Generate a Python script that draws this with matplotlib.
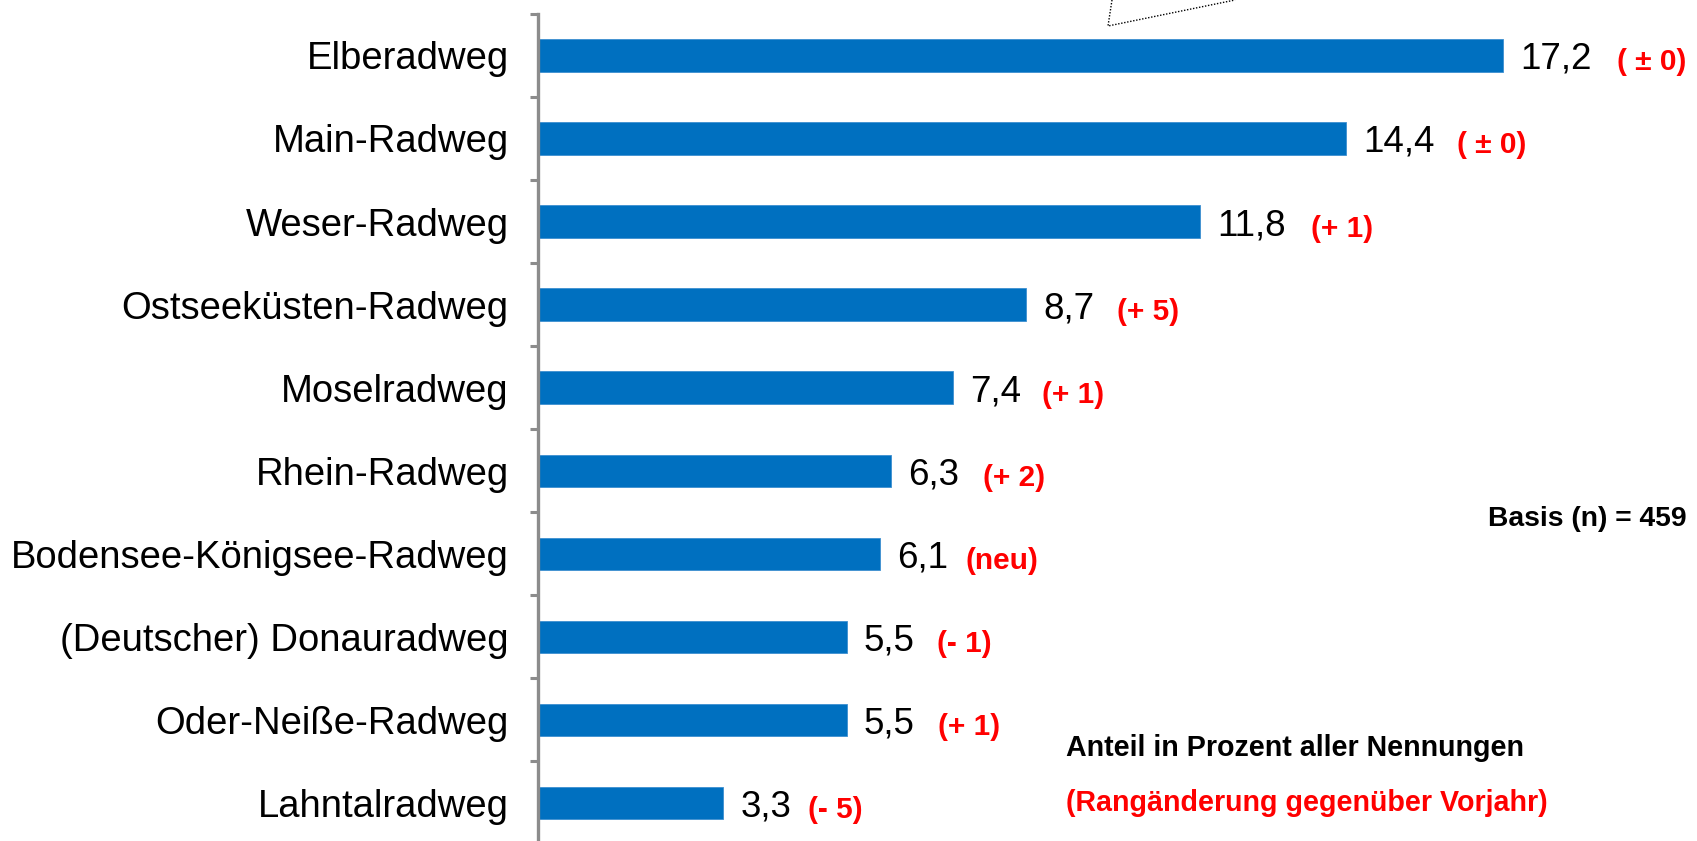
import matplotlib.pyplot as plt
import numpy as np

plt.rcParams['font.family'] = ['Liberation Sans', 'DejaVu Sans']

# data
routes = ['Elberadweg', 'Main-Radweg', 'Weser-Radweg', 'Ostseeküsten-Radweg',
          'Moselradweg', 'Rhein-Radweg', 'Bodensee-Königsee-Radweg',
          '(Deutscher) Donauradweg', 'Oder-Neiße-Radweg', 'Lahntalradweg']
shares = [17.2, 14.4, 11.8, 8.7, 7.4, 6.3, 6.1, 5.5, 5.5, 3.3]
rank_change = ['( ± 0)', '( ± 0)', '(+ 1)', '(+ 5)', '(+ 1)', '(+ 2)',
               '(neu)', '(- 1)', '(+ 1)', '(- 5)']

# layout: horizontal gap (pixels) between bar end and the red rank tag
tag_gap = [114, 111, 111, 91, 89, 92, 85, 90, 91, 85]

BLUE = '#0070C0'
RED = '#FF0000'
GREY = '#8C8C8C'

fig = plt.figure(figsize=(16.97, 8.41), dpi=100, facecolor='white')
ax = fig.add_axes([538 / 1697, -3.5 / 841, 1122 / 1697, 830.6 / 841])

y = np.arange(len(routes))
ax.barh(y, shares, height=0.39, color=BLUE, edgecolor='#3d8fd0',
        linewidth=0.6, zorder=2)
ax.set_xlim(0, 20)
ax.set_ylim(len(routes) - 0.5, -0.5)

for s in ['top', 'right', 'bottom']:
    ax.spines[s].set_visible(False)
ax.spines['left'].set_color(GREY)
ax.spines['left'].set_linewidth(2.4)
ax.spines['left'].set_zorder(3)

ax.set_xticks([])
ax.set_yticks(y)
ax.set_yticklabels(routes, fontsize=27.5, color='black')
ax.tick_params(axis='y', which='major', length=0, pad=21)
ax.set_yticks(np.arange(len(routes) + 1) - 0.5, minor=True)
ax.tick_params(axis='y', which='minor', length=6, width=2.2, color=GREY)

for i, (v, tag) in enumerate(zip(shares, rank_change)):
    ax.annotate(f'{v:.1f}'.replace('.', ','), xy=(v, i),
                xytext=(17, -4), textcoords='offset pixels',
                ha='left', va='center', fontsize=26.5, color='black')
    ax.annotate(tag, xy=(v, i), xytext=(tag_gap[i], -7),
                textcoords='offset pixels', ha='left', va='center',
                fontsize=21.5, fontweight='bold', color=RED)

fig.text(1687 / 1697, 1 - 519 / 841, 'Basis (n) = 459', ha='right',
         va='center', fontsize=20.3, fontweight='bold', color='black')
fig.text(1066 / 1697, 1 - 748 / 841, 'Anteil in Prozent aller Nennungen',
         ha='left', va='center', fontsize=20.6, fontweight='bold',
         color='black')
fig.text(1066 / 1697, 1 - 803 / 841, '(Rangänderung gegenüber Vorjahr)',
         ha='left', va='center', fontsize=20.6, fontweight='bold', color=RED)

# cut-off callout at the top edge
fig.add_artist(plt.Line2D([1112 / 1697, 1108 / 1697, 1235 / 1697],
                          [1.0, 1 - 26 / 841, 1.0],
                          transform=fig.transFigure, color='black',
                          linestyle=(0, (1, 1.2)), linewidth=1.0))

fig.savefig('out.png', dpi=100, facecolor='white')
